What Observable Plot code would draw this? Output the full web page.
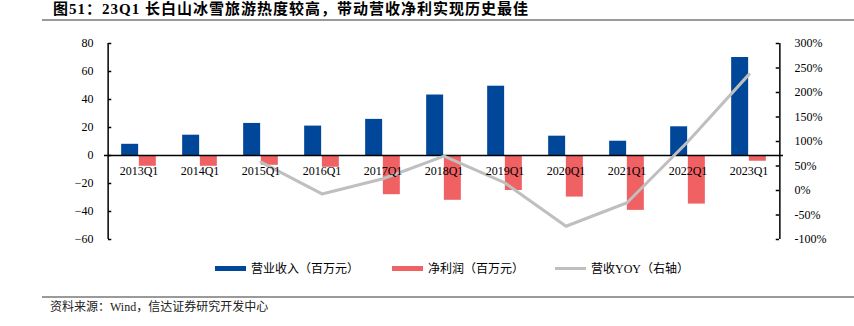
<!DOCTYPE html>
<html><head><meta charset="utf-8">
<script src="https://cdn.jsdelivr.net/npm/d3@7"></script>
<script src="https://cdn.jsdelivr.net/npm/@observablehq/plot@0.6"></script>
<style>
html,body{margin:0;padding:0;background:#fff;}
body{width:854px;height:326px;overflow:hidden;font-family:"Liberation Serif","Noto Sans CJK SC",serif;color:#000;}
#title{margin-left:42px;padding-left:11px;height:19px;line-height:19px;border-bottom:2px solid #9a9a9a;font-size:15px;font-weight:bold;letter-spacing:1px;white-space:nowrap;}
#chart{height:234px;}
#chart svg{display:block;}
#chart svg text{font-family:"Liberation Serif","Noto Sans CJK SC",serif !important;font-variant:normal !important;}
#legend{position:relative;height:26px;font-size:12px;}
.item{position:absolute;top:0;height:26px;display:flex;align-items:center;white-space:nowrap;}
.sw{display:inline-block;width:31px;margin-right:5px;}
#source{margin-left:42px;margin-top:15px;border-top:2px solid #9a9a9a;padding-top:2px;padding-left:8px;font-size:12px;line-height:14px;color:#222;white-space:nowrap;}
</style></head><body>
<div id="title">图51：23Q1 长白山冰雪旅游热度较高，带动营收净利实现历史最佳</div>
<div id="chart"></div>
<div id="legend">
  <div class="item" style="left:215px"><span class="sw" style="height:5px;background:#00479A"></span>营业收入（百万元）</div>
  <div class="item" style="left:392px"><span class="sw" style="height:5px;background:#F06163"></span>净利润（百万元）</div>
  <div class="item" style="left:555px"><span class="sw" style="height:3px;background:#BFBFBF"></span>营收YOY（右轴）</div>
</div>
<div id="source">资料来源：Wind，信达证券研究开发中心</div>
<script>
const categories = ["2013Q1","2014Q1","2015Q1","2016Q1","2017Q1","2018Q1","2019Q1","2020Q1","2021Q1","2022Q1","2023Q1"];
const revenue = [8, 14.5, 22.9, 21, 25.8, 43.2, 49.5, 13.8, 10.2, 20.5, 70];
const netProfit = [-7.7, -7.7, -7, -8.4, -28, -32, -25, -29.7, -39.2, -34.7, -4.1];
const revenueYoY = [null, null, 58, -7, 24, 70, 15.5, -73, -25, 100, 237];
const leftDomain = [-60, 80];
const rightDomain = [-100, 300];
const leftTicks = [-60, -40, -20, 0, 20, 40, 60, 80];
const rightTicks = [-100, -50, 0, 50, 100, 150, 200, 250, 300];

const k = (leftDomain[1] - leftDomain[0]) / (rightDomain[1] - rightDomain[0]);
const toLeft = v => leftDomain[0] + (v - rightDomain[0]) * k;
const toRight = v => rightDomain[0] + (v - leftDomain[0]) / k;

const W = 854, H = 234, mL = 104, mR = 71, mT = 22, mB = 16;
const bw = (W - mL - mR) / categories.length;
const barW = 17.7;
const tick = 4;
const serif = "'Liberation Serif','Noto Sans CJK SC',serif";
const rows = categories.map((c, i) => ({c, rev: revenue[i], np: netProfit[i], yoy: revenueYoY[i]}));
const first = categories[0], last = categories[categories.length - 1];
const rightTickPos = rightTicks.map(toLeft);

const plot = Plot.plot({
  width: W, height: H, marginLeft: mL, marginRight: mR, marginTop: mT, marginBottom: mB,
  style: {fontFamily: serif, fontSize: "12px", color: "#000", background: "#fff", overflow: "visible"},
  x: {type: "band", domain: categories, padding: 0, axis: null},
  y: {domain: leftDomain, axis: null},
  marks: [
    Plot.barY(rows, {x: "c", y: "rev", fill: "#00479A", insetLeft: bw / 2 - barW, insetRight: bw / 2}),
    Plot.barY(rows, {x: "c", y: "np", fill: "#F06163", insetLeft: bw / 2, insetRight: bw / 2 - barW}),
    Plot.ruleY([0], {stroke: "#000", strokeWidth: 1.5}),
    Plot.line(rows.filter(d => d.yoy != null), {x: "c", y: d => toLeft(d.yoy), stroke: "#BFBFBF", strokeWidth: 3}),
    Plot.text(rows, {x: "c", y: 0, text: "c", dy: 16, fill: "#000", fontFamily: serif}),
    // left axis line and inward ticks
    Plot.ruleX([first], {x: d => d, dx: -bw / 2, y1: leftDomain[0], y2: leftDomain[1], stroke: "#000", strokeWidth: 1.5}),
    Plot.tickY(leftTicks, {x: () => first, y: d => d, insetRight: bw - tick, stroke: "#000", strokeWidth: 1.5}),
    Plot.axisY(leftTicks, {anchor: "left", tickSize: 0, tickPadding: 11, fontFamily: serif, fill: "#000"}),
    // right axis line and inward ticks
    Plot.ruleX([last], {x: d => d, dx: bw / 2, y1: leftDomain[0], y2: leftDomain[1], stroke: "#000", strokeWidth: 1.5}),
    Plot.tickY(rightTickPos, {x: () => last, y: d => d, insetLeft: bw - tick, stroke: "#000", strokeWidth: 1.5}),
    Plot.axisY(rightTickPos, {anchor: "right", tickSize: 0, tickPadding: 11, fontFamily: serif, fill: "#000",
      tickFormat: d => Math.round(toRight(d)) + "%"})
  ]
});
document.getElementById("chart").append(plot);
</script>
</body></html>
